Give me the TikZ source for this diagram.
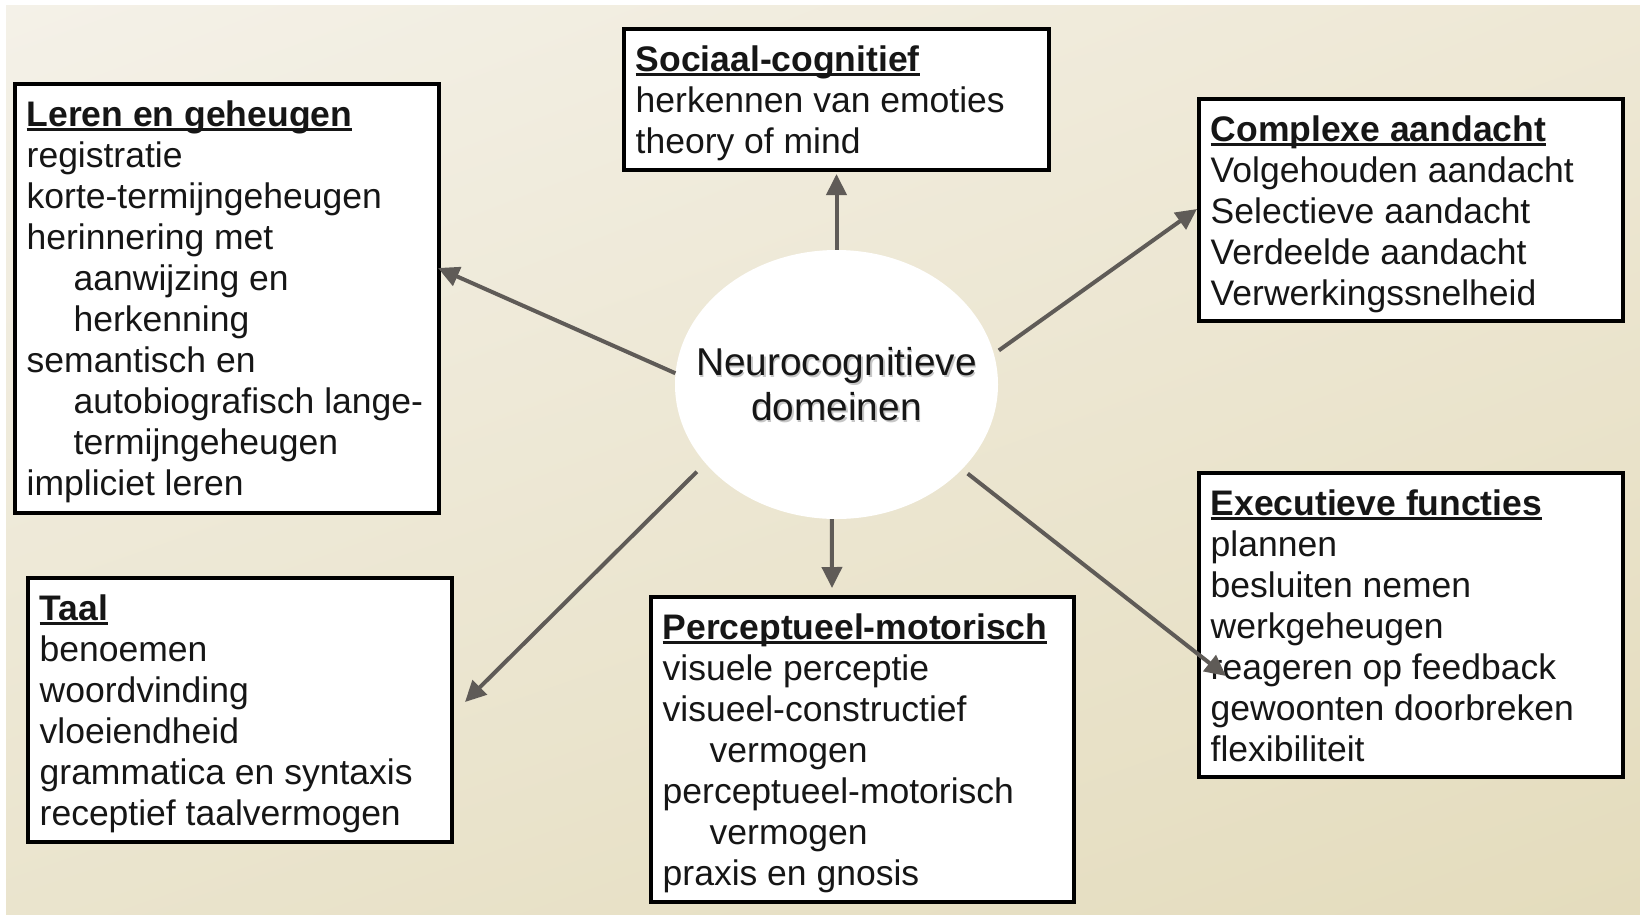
\documentclass[tikz,border=0pt]{standalone}
\usepackage{fontspec}
\setmainfont{Liberation Sans}
\usetikzlibrary{arrows.meta,shapes.geometric,shadings}
\definecolor{bgUL}{HTML}{F4F1E8}
\definecolor{bgUR}{HTML}{EEE8D5}
\definecolor{bgLL}{HTML}{EAE4CD}
\definecolor{bgLR}{HTML}{E4DCBD}
\definecolor{arr}{HTML}{5F5B57}
\definecolor{txt}{HTML}{161616}
\newcommand\hd[1]{\setbox0\hbox{\bfseries #1}\rlap{\rule[-4.5pt]{\wd0}{2.6pt}}\box0}
\newcommand\ind{\hspace*{47pt}}
\begin{document}
\begin{tikzpicture}[x=1pt,y=-1pt,
  box/.style={draw=black,line width=4pt,fill=white,rectangle,inner sep=0pt,outer sep=0pt,anchor=north west},
  lines/.style={anchor=north west,inner sep=0pt,align=left,text=txt,font=\fontsize{35.5}{41}\selectfont},
  mid/.style={inner sep=0pt,align=center,font=\fontsize{38.8}{45}\selectfont},
  conn/.style={draw=arr,line width=4pt,-{Triangle[length=21pt,width=20pt]}}]
\useasboundingbox (0,0) rectangle (1640,914);
\fill[white] (0,0) rectangle (1640,914);
\shade[upper left=bgUL,upper right=bgUR,lower left=bgLL,lower right=bgLR] (6,5) rectangle (1640,914);

% boxes
\node[box,minimum width=424pt,minimum height=429pt] (leren) at (15,84) {};
\node[box,minimum width=425pt,minimum height=141pt] (soc) at (624,29) {};
\node[box,minimum width=424pt,minimum height=222pt] (comp) at (1199,99) {};
\node[box,minimum width=424pt,minimum height=304pt] (exec) at (1199,473) {};
\node[box,minimum width=424pt,minimum height=264pt] (taal) at (28,578) {};
\node[box,minimum width=423pt,minimum height=305pt] (perc) at (651,597) {};

% texts
\node[lines] (lerenT) at ([xshift=11.5pt,yshift=-12pt]leren.north west)
 {\rule{0pt}{30pt}\hd{Leren en geheugen}\\registratie\\korte-termijngeheugen\\herinnering met\\\ind aanwijzing en\\\ind herkenning\\semantisch en\\\ind autobiografisch lange-\\\ind termijngeheugen\\impliciet leren};
\node[lines] (socT) at ([xshift=11.5pt,yshift=-12pt]soc.north west)
 {\rule{0pt}{30pt}\hd{Sociaal-cognitief}\\herkennen van emoties\\theory of mind};
\node[lines] (compT) at ([xshift=11.5pt,yshift=-12pt]comp.north west)
 {\rule{0pt}{30pt}\hd{Complexe aandacht}\\Volgehouden aandacht\\Selectieve aandacht\\Verdeelde aandacht\\Verwerkingssnelheid};
\node[lines] (execT) at ([xshift=11.5pt,yshift=-12pt]exec.north west)
 {\rule{0pt}{30pt}\hd{Executieve functies}\\plannen\\besluiten nemen\\werkgeheugen\\reageren op feedback\\gewoonten doorbreken\\flexibiliteit};
\node[lines] (taalT) at ([xshift=11.5pt,yshift=-12pt]taal.north west)
 {\rule{0pt}{30pt}\hd{Taal}\\benoemen\\woordvinding\\vloeiendheid\\grammatica en syntaxis\\receptief taalvermogen};
\node[lines] (percT) at ([xshift=11.5pt,yshift=-12pt]perc.north west)
 {\rule{0pt}{30pt}\hd{Perceptueel-motorisch}\\visuele perceptie\\visueel-constructief\\\ind vermogen\\perceptueel-motorisch\\\ind vermogen\\praxis en gnosis};

% centre
\node[ellipse,fill=white,draw=none,minimum width=323pt,minimum height=269pt,inner sep=0pt] (ell) at (836.5,384.5) {};
\node[mid,text=black!22] (ellS) at ([xshift=1.5pt,yshift=-1.5pt]ell.center) {Neurocognitieve\\domeinen};
\node[mid,text=txt] (ellT) at (ell.center) {Neurocognitieve\\domeinen};

% arrow tips
\coordinate (tL) at (438,268);
\coordinate (tR) at (1197,209);
\coordinate (tD) at (832,588);
\coordinate (tLD) at (465,702);
\coordinate (tRD) at (1226,676);

\draw[conn,shorten >=4pt] (ell.north) -- (soc.south);
\draw[conn] (ell.176.6) -- (tL);
\draw[conn,shorten <=6pt] (ell.11.2) -- (tR);
\draw[conn] (ell.268) -- (tD);
\draw[conn,shorten <=12pt] (ell.211.8) -- (tLD);
\draw[conn,shorten <=7pt] (ell.326.1) -- (tRD);
\end{tikzpicture}
\end{document}
